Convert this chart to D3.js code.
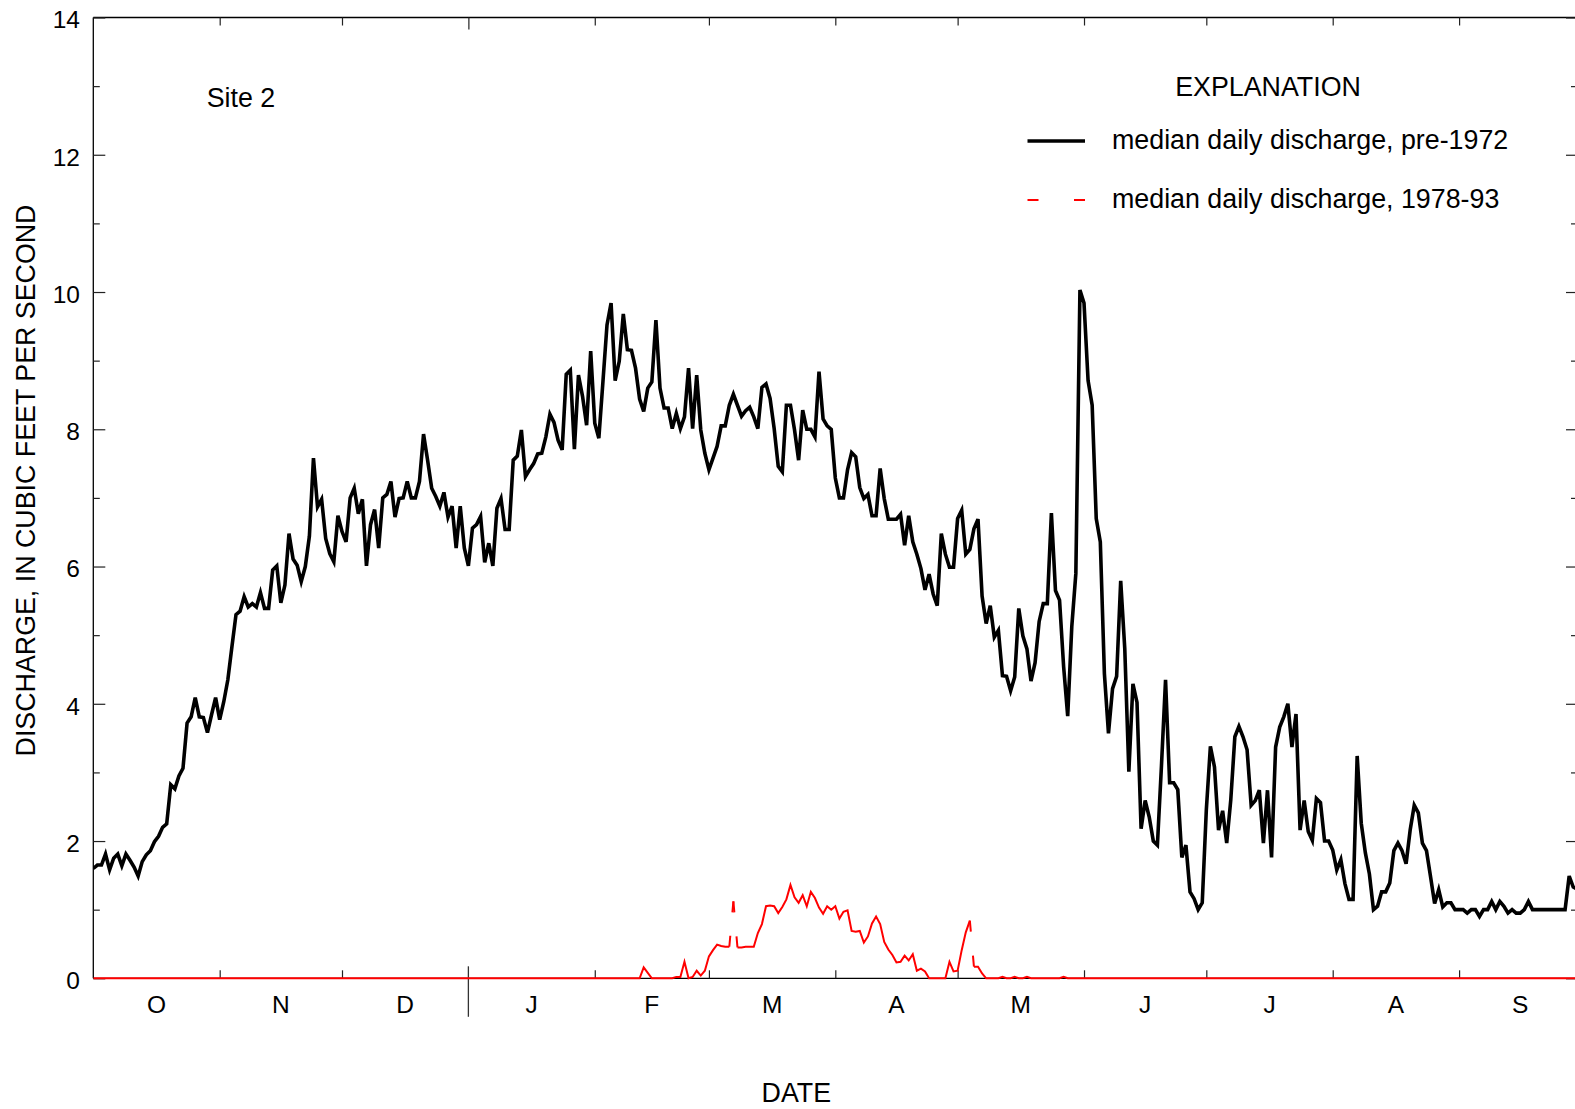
<!DOCTYPE html>
<html>
<head>
<meta charset="utf-8">
<script src="https://cdn.jsdelivr.net/npm/d3@7"></script>
<style>
  html, body { margin: 0; padding: 0; background: #fff; }
  svg { display: block; font-family: "Liberation Sans", Arial, Helvetica, sans-serif; }
</style>
</head>
<body>
<script>
// Water-year months (October through September)
const monthLabels = ["O", "N", "D", "J", "F", "M", "A", "M", "J", "J", "A", "S"];
const monthDays = [31, 30, 31, 31, 28, 31, 30, 31, 30, 31, 31, 30];
const yTicks = [0, 2, 4, 6, 8, 10, 12, 14];
const yMinorTicks = [1, 3, 5, 7, 9, 11, 13];

const seriesNames = ["median daily discharge, pre-1972", "median daily discharge, 1978-93"];

// Median daily discharge, pre-1972 (cubic feet per second), day 0 = October 1
const pre1972 = [
  1.60, 1.65, 1.65, 1.81, 1.58, 1.75, 1.81, 1.64, 1.81, 1.72,
  1.62, 1.49, 1.70, 1.80, 1.86, 1.99, 2.07, 2.20, 2.25, 2.82,
  2.76, 2.95, 3.06, 3.72, 3.81, 4.09, 3.81, 3.80, 3.58, 3.84,
  4.09, 3.77, 4.03, 4.35, 4.83, 5.30, 5.35, 5.56, 5.41, 5.46,
  5.41, 5.62, 5.39, 5.39, 5.95, 6.01, 5.47, 5.73, 6.48, 6.11,
  6.02, 5.78, 6.00, 6.44, 7.58, 6.87, 6.98, 6.41, 6.19, 6.07,
  6.74, 6.51, 6.36, 7.00, 7.14, 6.77, 6.98, 6.01, 6.61, 6.83,
  6.27, 7.00, 7.05, 7.24, 6.72, 6.99, 7.00, 7.24, 7.00, 7.00,
  7.24, 7.93, 7.55, 7.14, 7.02, 6.88, 7.08, 6.72, 6.88, 6.27,
  6.88, 6.27, 6.01, 6.56, 6.61, 6.73, 6.06, 6.34, 6.01, 6.85,
  6.99, 6.54, 6.54, 7.55, 7.61, 7.99, 7.31, 7.41, 7.50, 7.64,
  7.65, 7.89, 8.22, 8.10, 7.84, 7.70, 8.80, 8.86, 7.71, 8.79,
  8.48, 8.06, 9.14, 8.09, 7.87, 8.69, 9.52, 9.84, 8.71, 8.99,
  9.68, 9.16, 9.15, 8.89, 8.44, 8.26, 8.60, 8.69, 9.59, 8.60,
  8.31, 8.31, 8.01, 8.23, 8.01, 8.18, 8.89, 8.01, 8.79, 7.99,
  7.65, 7.41, 7.58, 7.75, 8.05, 8.05, 8.35, 8.51, 8.35, 8.19,
  8.27, 8.32, 8.18, 8.01, 8.61, 8.66, 8.45, 8.01, 7.46, 7.38,
  8.35, 8.35, 7.99, 7.55, 8.28, 8.00, 8.00, 7.89, 8.84, 8.15,
  8.05, 8.00, 7.29, 7.00, 7.00, 7.41, 7.66, 7.60, 7.15, 6.99,
  7.05, 6.74, 6.74, 7.43, 6.99, 6.69, 6.69, 6.69, 6.76, 6.31,
  6.74, 6.36, 6.18, 5.97, 5.66, 5.89, 5.60, 5.43, 6.48, 6.18,
  5.99, 5.99, 6.70, 6.82, 6.18, 6.25, 6.55, 6.69, 5.57, 5.17,
  5.43, 4.97, 5.07, 4.41, 4.40, 4.19, 4.39, 5.39, 4.99, 4.80,
  4.33, 4.60, 5.20, 5.46, 5.46, 6.78, 5.65, 5.51, 4.54, 3.82,
  5.12, 5.90, 10.03, 9.84, 8.71, 8.35, 6.70, 6.36, 4.44, 3.57,
  4.22, 4.40, 5.79, 4.80, 3.01, 4.29, 4.02, 2.18, 2.59, 2.35,
  2.00, 1.94, 3.10, 4.35, 2.85, 2.85, 2.75, 1.76, 1.94, 1.26,
  1.16, 1.00, 1.10, 2.45, 3.38, 3.08, 2.16, 2.44, 1.97, 2.60,
  3.52, 3.67, 3.52, 3.33, 2.52, 2.59, 2.74, 1.97, 2.74, 1.76,
  3.37, 3.66, 3.81, 4.00, 3.37, 3.85, 2.16, 2.59, 2.14, 2.01,
  2.62, 2.56, 2.00, 2.00, 1.87, 1.58, 1.73, 1.38, 1.15, 1.15,
  3.24, 2.26, 1.83, 1.52, 1.00, 1.05, 1.26, 1.26, 1.39, 1.86,
  1.97, 1.86, 1.67, 2.16, 2.52, 2.41, 1.97, 1.86, 1.48, 1.09,
  1.29, 1.04, 1.10, 1.10, 1.00, 1.00, 1.00, 0.95, 1.00, 1.00,
  0.90, 1.00, 1.00, 1.12, 1.00, 1.12, 1.05, 0.95, 1.00, 0.95,
  0.95, 1.00, 1.12, 1.00, 1.00, 1.00, 1.00, 1.00, 1.00, 1.00,
  1.00, 1.00, 1.49, 1.33, 1.30
];

// Median daily discharge, 1978-93 (cubic feet per second), day 0 = October 1
const recent = [
  0, 0, 0, 0, 0, 0, 0, 0, 0, 0,
  0, 0, 0, 0, 0, 0, 0, 0, 0, 0,
  0, 0, 0, 0, 0, 0, 0, 0, 0, 0,
  0, 0, 0, 0, 0, 0, 0, 0, 0, 0,
  0, 0, 0, 0, 0, 0, 0, 0, 0, 0,
  0, 0, 0, 0, 0, 0, 0, 0, 0, 0,
  0, 0, 0, 0, 0, 0, 0, 0, 0, 0,
  0, 0, 0, 0, 0, 0, 0, 0, 0, 0,
  0, 0, 0, 0, 0, 0, 0, 0, 0, 0,
  0, 0, 0, 0, 0, 0, 0, 0, 0, 0,
  0, 0, 0, 0, 0, 0, 0, 0, 0, 0,
  0, 0, 0, 0, 0, 0, 0, 0, 0, 0,
  0, 0, 0, 0, 0, 0, 0, 0, 0, 0,
  0, 0, 0, 0, 0, 0.16, 0.08, 0, 0, 0,
  0, 0, 0, 0.02, 0.02, 0.24, 0, 0.02, 0.11, 0.04,
  0.11, 0.32, 0.41, 0.49, 0.47, 0.46, 0.46, 1.12, 0.45, 0.45,
  0.46, 0.46, 0.46, 0.66, 0.79, 1.05, 1.06, 1.05, 0.95, 1.04,
  1.15, 1.36, 1.18, 1.10, 1.21, 1.05, 1.26, 1.17, 1.03, 0.94,
  1.05, 1.00, 1.05, 0.87, 0.97, 0.99, 0.69, 0.68, 0.69, 0.52,
  0.61, 0.80, 0.90, 0.79, 0.53, 0.42, 0.34, 0.23, 0.24, 0.33,
  0.26, 0.35, 0.11, 0.14, 0.10, 0, 0, 0, 0, 0,
  0.24, 0.10, 0.11, 0.41, 0.67, 0.84, 0.17, 0.17, 0.07, 0,
  0, 0, 0, 0.02, 0, 0, 0.02, 0, 0, 0.02,
  0, 0, 0, 0, 0, 0, 0, 0, 0.02, 0,
  0, 0, 0, 0, 0, 0, 0, 0, 0, 0,
  0, 0, 0, 0, 0, 0, 0, 0, 0, 0,
  0, 0, 0, 0, 0, 0, 0, 0, 0, 0,
  0, 0, 0, 0, 0, 0, 0, 0, 0, 0,
  0, 0, 0, 0, 0, 0, 0, 0, 0, 0,
  0, 0, 0, 0, 0, 0, 0, 0, 0, 0,
  0, 0, 0, 0, 0, 0, 0, 0, 0, 0,
  0, 0, 0, 0, 0, 0, 0, 0, 0, 0,
  0, 0, 0, 0, 0, 0, 0, 0, 0, 0,
  0, 0, 0, 0, 0, 0, 0, 0, 0, 0,
  0, 0, 0, 0, 0, 0, 0, 0, 0, 0,
  0, 0, 0, 0, 0, 0, 0, 0, 0, 0,
  0, 0, 0, 0, 0
];

// ---- layout ----
const W = 1575, H = 1109;
const plotLeft = 93.3, plotTop = 17.5, plotBottom = 978.3, frameRight = 1578;
const textSize = 26.8, tickSize = 24.5;

const svg = d3.select("body").append("svg")
  .attr("width", W).attr("height", H)
  .attr("viewBox", `0 0 ${W} ${H}`);
svg.append("rect").attr("width", W).attr("height", H).attr("fill", "#fff");

const x = d3.scaleLinear().domain([0, 365]).range([plotLeft, 1581.4]);
const y = d3.scaleLinear().domain([0, 14]).range([plotBottom, plotTop]);

const monthStarts = d3.cumsum([0, ...monthDays]).slice(0, 12);
const monthBounds = monthStarts.slice(1);   // internal month boundaries
const janStart = monthStarts[3];

svg.append("clipPath").attr("id", "plotClip")
  .append("rect")
  .attr("x", plotLeft).attr("y", 0)
  .attr("width", frameRight - plotLeft).attr("height", H);

// ---- frame ----
const frame = svg.append("g").attr("stroke", "#000").attr("stroke-width", 1.3).attr("fill", "none");
frame.append("line").attr("x1", plotLeft).attr("x2", frameRight).attr("y1", plotTop).attr("y2", plotTop);
frame.append("line").attr("x1", plotLeft).attr("x2", plotLeft).attr("y1", plotTop).attr("y2", plotBottom);
frame.append("line").attr("x1", frameRight).attr("x2", frameRight).attr("y1", plotTop).attr("y2", plotBottom);
frame.append("line").attr("x1", plotLeft).attr("x2", frameRight).attr("y1", plotBottom).attr("y2", plotBottom);

function styleAxis(g) {
  g.select(".domain").remove();
  g.selectAll(".tick line").attr("stroke", "#222").attr("stroke-width", 1.2);
}

// ---- y axis (left) with labels, ticks pointing inward ----
svg.append("g")
  .attr("transform", `translate(${plotLeft},0)`)
  .call(d3.axisLeft(y).tickValues(yTicks).tickSizeInner(-12).tickSizeOuter(0).tickPadding(13.3))
  .call(styleAxis)
  .call(g => g.selectAll(".tick text")
    .attr("font-size", tickSize).attr("fill", "#000")
    .attr("font-family", "Liberation Sans, Arial, sans-serif")
    .attr("dy", "0.42em"));
svg.append("g")
  .attr("transform", `translate(${plotLeft},0)`)
  .call(d3.axisLeft(y).tickValues(yMinorTicks).tickSizeInner(-6.5).tickSizeOuter(0).tickFormat(""))
  .call(styleAxis);

// ---- y axis (right) ticks only ----
svg.append("g")
  .attr("transform", `translate(${frameRight},0)`)
  .call(d3.axisLeft(y).tickValues(yTicks).tickSizeInner(12).tickSizeOuter(0).tickFormat(""))
  .call(styleAxis);
svg.append("g")
  .attr("transform", `translate(${frameRight},0)`)
  .call(d3.axisLeft(y).tickValues(yMinorTicks).tickSizeInner(7).tickSizeOuter(0).tickFormat(""))
  .call(styleAxis);

// ---- x axis month boundary ticks (top and bottom, inward) ----
const regularBounds = monthBounds.filter(d => d !== janStart);
svg.append("g")
  .attr("transform", `translate(0,${plotBottom})`)
  .call(d3.axisBottom(x).tickValues(regularBounds).tickSizeInner(-8).tickSizeOuter(0).tickFormat(""))
  .call(styleAxis);
svg.append("g")
  .attr("transform", `translate(0,${plotTop})`)
  .call(d3.axisTop(x).tickValues(monthBounds).tickSizeInner(-8).tickSizeOuter(0).tickFormat(""))
  .call(styleAxis)
  .call(g => g.selectAll(".tick line").filter(d => d === janStart).attr("y2", 12));

// Calendar-year break at January 1 crosses the axis
svg.append("line")
  .attr("x1", x(janStart)).attr("x2", x(janStart))
  .attr("y1", plotBottom - 12).attr("y2", plotBottom + 38.5)
  .attr("stroke", "#333").attr("stroke-width", 1.3);

// Month labels centred in each month
svg.append("g").selectAll("text")
  .data(monthLabels)
  .join("text")
  .attr("x", (d, i) => x(monthStarts[i] + monthDays[i] / 2))
  .attr("y", 1013)
  .attr("text-anchor", "middle")
  .attr("font-size", tickSize)
  .text(d => d);

// ---- axis titles and annotations ----
svg.append("text")
  .attr("transform", "translate(34.5,480.5) rotate(-90)")
  .attr("text-anchor", "middle")
  .attr("font-size", textSize)
  .text("DISCHARGE, IN CUBIC FEET PER SECOND");

svg.append("text")
  .attr("x", 796.3).attr("y", 1102)
  .attr("text-anchor", "middle")
  .attr("font-size", textSize)
  .text("DATE");

svg.append("text")
  .attr("x", 206.7).attr("y", 106.5)
  .attr("font-size", textSize)
  .text("Site 2");

// ---- helpers for the red series: long segments show a dash at each end ----
const dashLen = 11;
function endDashes(L) {
  return `${dashLen} ${Math.max(L - 2 * dashLen, 0)}`;
}

const plot = svg.append("g").attr("clip-path", "url(#plotClip)");

// Red series: short steps drawn as solid runs, long steps as end-dashed segments
const redPts = recent.map((v, i) => [x(i), y(v)]);
const runs = [];
const longSegs = [];
let run = [redPts[0]];
for (let k = 1; k < redPts.length; k++) {
  const a = redPts[k - 1], b = redPts[k];
  const L = Math.hypot(b[0] - a[0], b[1] - a[1]);
  if (L > 30) {
    if (run.length > 1) runs.push(run);
    longSegs.push({ a, b, L });
    run = [b];
  } else {
    run.push(b);
  }
}
if (run.length > 1) runs.push(run);

const pixelLine = d3.line();

// Black series
plot.append("path")
  .datum(pre1972)
  .attr("d", d3.line().x((d, i) => x(i)).y(d => y(d)))
  .attr("fill", "none")
  .attr("stroke", "#000")
  .attr("stroke-width", 3.6)
  .attr("stroke-linejoin", "miter");

plot.append("g").selectAll("path.run")
  .data(runs)
  .join("path")
  .attr("class", "run")
  .attr("d", pixelLine)
  .attr("fill", "none")
  .attr("stroke", "#ff0000")
  .attr("stroke-width", 2)
  .attr("stroke-linejoin", "miter");

plot.append("g").selectAll("line")
  .data(longSegs)
  .join("line")
  .attr("x1", d => d.a[0]).attr("y1", d => d.a[1])
  .attr("x2", d => d.b[0]).attr("y2", d => d.b[1])
  .attr("stroke", "#ff0000")
  .attr("stroke-width", 2)
  .attr("stroke-dasharray", d => endDashes(d.L));

// ---- legend ----
const legend = svg.append("g");
legend.append("text")
  .attr("x", 1175.2).attr("y", 95.5)
  .attr("font-size", textSize)
  .text("EXPLANATION");

const keyX1 = 1027.5, keyX2 = 1085;
legend.append("line")
  .attr("x1", keyX1).attr("x2", keyX2).attr("y1", 141).attr("y2", 141)
  .attr("stroke", "#000").attr("stroke-width", 3.6);
legend.append("text")
  .attr("x", 1112).attr("y", 149.3)
  .attr("font-size", textSize)
  .text(seriesNames[0]);

legend.append("line")
  .attr("x1", keyX1).attr("x2", keyX2).attr("y1", 200).attr("y2", 200)
  .attr("stroke", "#ff0000").attr("stroke-width", 2)
  .attr("stroke-dasharray", endDashes(keyX2 - keyX1));
legend.append("text")
  .attr("x", 1112).attr("y", 207.5)
  .attr("font-size", textSize)
  .text(seriesNames[1]);
</script>
</body>
</html>
